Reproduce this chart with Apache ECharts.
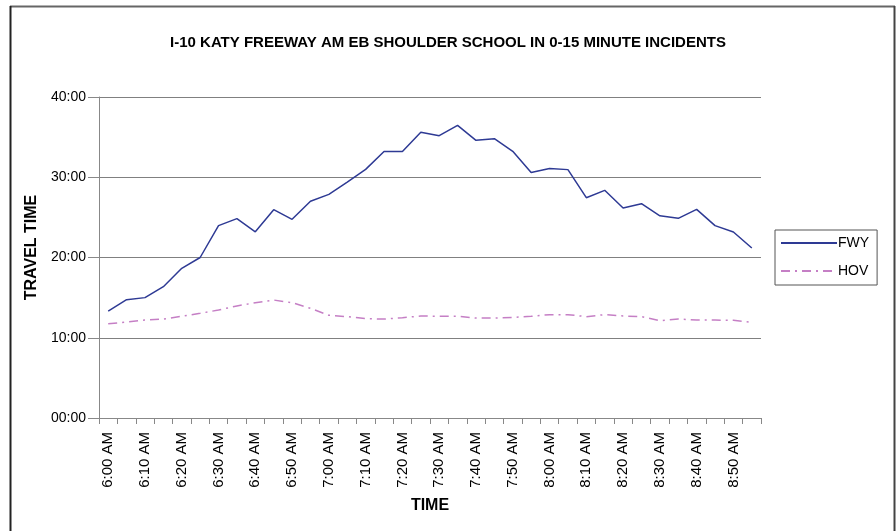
<!DOCTYPE html>
<html>
<head>
<meta charset="utf-8">
<script src="https://cdn.jsdelivr.net/npm/echarts@6/dist/echarts.min.js"></script>
<style>
html,body{margin:0;padding:0;background:#fff;}
#c{width:896px;height:531px;}
</style>
</head>
<body>
<div id="c"></div>
<script>
var categories = ['6:00 AM','6:05 AM','6:10 AM','6:15 AM','6:20 AM','6:25 AM','6:30 AM','6:35 AM','6:40 AM','6:45 AM','6:50 AM','6:55 AM',
  '7:00 AM','7:05 AM','7:10 AM','7:15 AM','7:20 AM','7:25 AM','7:30 AM','7:35 AM','7:40 AM','7:45 AM','7:50 AM','7:55 AM',
  '8:00 AM','8:05 AM','8:10 AM','8:15 AM','8:20 AM','8:25 AM','8:30 AM','8:35 AM','8:40 AM','8:45 AM','8:50 AM','8:55 AM'];
// travel time in minutes
var fwy = [13.33,14.74,15.0,16.36,18.65,20.0,23.97,24.84,23.2,25.96,24.76,27.0,
  27.87,29.4,30.98,33.2,33.2,35.6,35.18,36.47,34.6,34.8,33.23,30.6,
  31.1,30.95,27.45,28.37,26.17,26.7,25.2,24.88,26.0,23.97,23.18,21.18];
var hov = [11.75,11.96,12.2,12.33,12.67,13.04,13.46,13.96,14.37,14.7,14.37,13.67,
  12.8,12.63,12.38,12.33,12.5,12.71,12.67,12.67,12.46,12.46,12.54,12.67,
  12.88,12.88,12.63,12.88,12.71,12.63,12.13,12.33,12.2,12.2,12.17,11.92];
var yTicks = [0,10,20,30,40];

function fmt(v){ var m = Math.round(v); return (m<10?'0':'')+m+':00'; }

var chart = echarts.init(document.getElementById('c'));
var font = 'Liberation Sans, Arial, sans-serif';
chart.setOption({
  animation:false,
  textStyle:{fontFamily:font},
  graphic:[
    {type:'line',shape:{x1:10,y1:6.5,x2:895,y2:6.5},style:{stroke:'#666',lineWidth:2},silent:true},
    {type:'line',shape:{x1:10.5,y1:6,x2:10.5,y2:531},style:{stroke:'#222',lineWidth:2},silent:true},
    {type:'line',shape:{x1:894.5,y1:6,x2:894.5,y2:531},style:{stroke:'#444',lineWidth:2},silent:true}
  ],
  title:{text:'I-10 KATY FREEWAY AM EB SHOULDER SCHOOL IN 0-15 MINUTE INCIDENTS',left:443,textAlign:'center',top:30,
    textStyle:{fontSize:15,fontWeight:'bold',color:'#000',fontFamily:font}},
  legend:{orient:'vertical',left:775,top:230,padding:[6,8,7,5],itemGap:14,
    borderColor:'#555',borderWidth:1,itemWidth:56,itemHeight:14,
    itemStyle:{opacity:0},
    textStyle:{fontSize:14,color:'#000',fontFamily:font,padding:[0,0,0,-4]},
    data:['FWY','HOV']},
  grid:{left:99,right:135,top:97,bottom:113},
  xAxis:{type:'category',data:categories,boundaryGap:true,
    name:'TIME',nameLocation:'middle',nameGap:80,
    nameTextStyle:{fontSize:16,fontWeight:'bold',color:'#000'},
    axisLine:{lineStyle:{color:'#888',width:1}},
    axisTick:{show:true,interval:0,length:6,lineStyle:{color:'#888'}},
    axisLabel:{interval:1,rotate:90,fontSize:15,color:'#000',margin:14},
    splitLine:{show:false}},
  yAxis:{type:'value',min:0,max:40,interval:10,
    name:'TRAVEL TIME',nameLocation:'middle',nameGap:58,nameRotate:90,
    nameTextStyle:{fontSize:16,fontWeight:'bold',color:'#000',padding:[0,0,0,20]},
    axisLine:{show:true,lineStyle:{color:'#888'}},
    axisTick:{show:true,length:11,lineStyle:{color:'#888'}},
    axisLabel:{fontSize:14,color:'#000',margin:13,formatter:function(v){return yTicks.indexOf(v)>=0?fmt(v):'';}},
    splitLine:{show:true,lineStyle:{color:'#808080',width:1}}},
  series:[
    {name:'FWY',type:'line',data:fwy,symbol:'none',showSymbol:false,
      lineStyle:{color:'#2E3A94',width:1.5},itemStyle:{color:'#2E3A94'}},
    {name:'HOV',type:'line',data:hov,symbol:'none',showSymbol:false,
      lineStyle:{color:'#C57FC5',width:1.5,type:[9,5,2,5]},itemStyle:{color:'#C57FC5'}}
  ]
});
</script>
</body>
</html>
